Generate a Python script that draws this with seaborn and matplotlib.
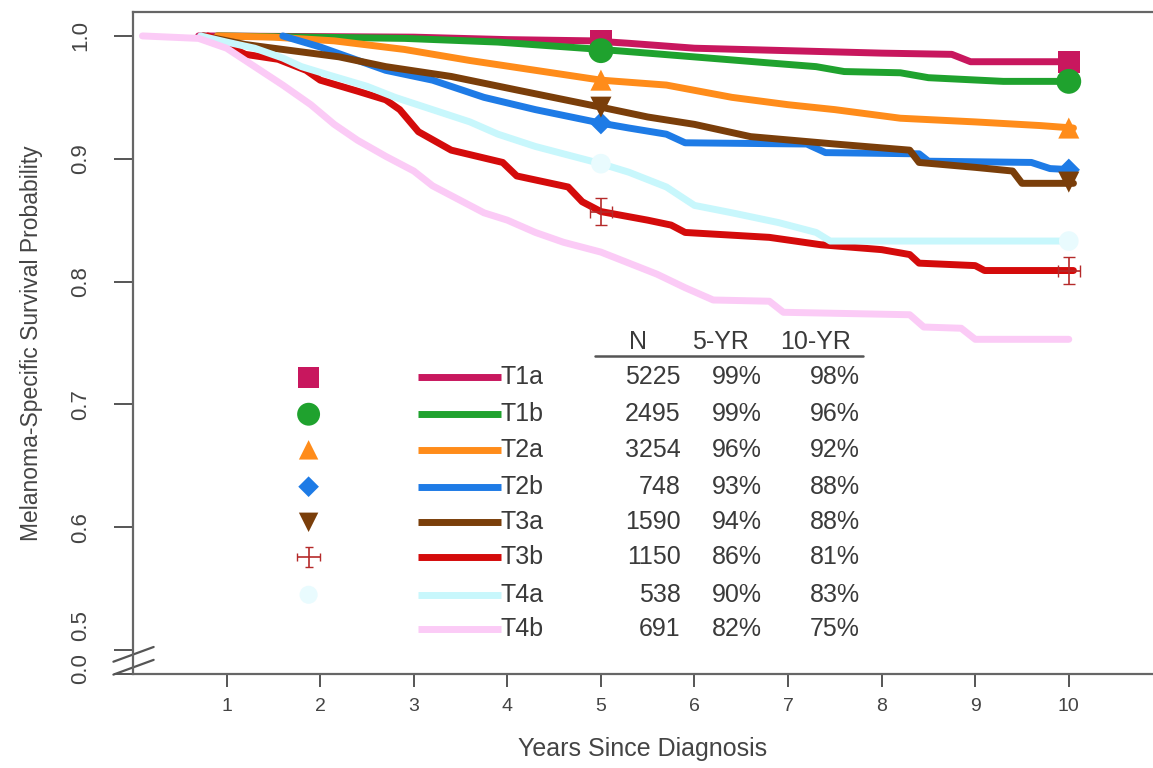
import numpy as np
import pandas as pd
import matplotlib
matplotlib.use("Agg")
import matplotlib.pyplot as plt
import matplotlib.transforms as mtransforms
import seaborn as sns

# groups and colours
groups = ["T1a", "T1b", "T2a", "T2b", "T3a", "T3b", "T4a", "T4b"]
colors = ["#C8175E", "#1FA22E", "#FF8C1A", "#1E7BE6", "#7A3E0A", "#D40B0B", "#C8F7FC", "#FBCBF6"]

# survival curves (years, survival)
t_t1a = [0.7, 3.0, 4.0, 4.9, 5.3, 6.0, 7.0, 8.0, 8.75, 8.95, 10.05]
s_t1a = [1.0, 0.999, 0.997, 0.996, 0.994, 0.990, 0.988, 0.986, 0.985, 0.979, 0.979]
t_t1b = [0.9, 2.9, 3.9, 5.0, 5.5, 6.15, 6.8, 7.3, 7.6, 8.2, 8.5, 9.3, 10.05]
s_t1b = [1.0, 0.998, 0.995, 0.989, 0.986, 0.982, 0.978, 0.975, 0.971, 0.970, 0.966, 0.963, 0.963]
t_t2a = [0.9, 1.5, 2.15, 2.9, 3.6, 4.3, 5.0, 5.7, 6.4, 7.0, 7.5, 8.2, 9.0, 9.7, 10.05]
s_t2a = [1.0, 0.999, 0.996, 0.989, 0.980, 0.972, 0.964, 0.960, 0.950, 0.944, 0.940, 0.933, 0.930, 0.927, 0.925]
t_t2b = [1.6, 2.0, 2.7, 3.2, 3.75, 4.3, 5.0, 5.3, 5.7, 5.9, 7.2, 7.4, 8.4, 8.5, 9.6, 9.8, 10.05]
s_t2b = [1.0, 0.991, 0.972, 0.964, 0.950, 0.940, 0.929, 0.925, 0.920, 0.913, 0.912, 0.905, 0.904, 0.898, 0.897, 0.892, 0.891]
t_t3a = [0.75, 1.2, 1.8, 2.2, 2.7, 3.4, 4.1, 5.0, 5.5, 6.0, 6.6, 7.5, 8.3, 8.4, 9.0, 9.4, 9.5, 10.05]
s_t3a = [1.0, 0.993, 0.987, 0.983, 0.975, 0.967, 0.956, 0.942, 0.934, 0.928, 0.918, 0.912, 0.907, 0.897, 0.893, 0.890, 0.880, 0.880]
t_t3b = [0.8, 1.2, 1.55, 1.85, 2.0, 2.4, 2.7, 2.85, 3.05, 3.4, 3.95, 4.1, 4.65, 4.8, 5.0, 5.5, 5.75, 5.9, 6.8, 7.35, 8.0, 8.3, 8.4, 9.0, 9.1, 10.05]
s_t3b = [1.0, 0.985, 0.981, 0.972, 0.964, 0.955, 0.948, 0.940, 0.922, 0.907, 0.897, 0.886, 0.877, 0.865, 0.857, 0.850, 0.846, 0.840, 0.836, 0.830, 0.826, 0.822, 0.815, 0.813, 0.809, 0.809]
t_t4a = [0.72, 1.0, 1.3, 1.6, 1.8, 2.1, 2.5, 2.8, 3.2, 3.6, 3.9, 4.3, 4.7, 5.0, 5.3, 5.7, 6.0, 6.4, 6.9, 7.3, 7.45, 10.05]
s_t4a = [1.0, 0.995, 0.990, 0.982, 0.975, 0.968, 0.959, 0.950, 0.940, 0.930, 0.920, 0.910, 0.902, 0.896, 0.889, 0.877, 0.862, 0.856, 0.848, 0.840, 0.833, 0.833]
t_t4b = [0.1, 0.7, 1.0, 1.3, 1.6, 1.9, 2.15, 2.4, 2.7, 3.0, 3.2, 3.5, 3.75, 4.0, 4.3, 4.6, 5.0, 5.3, 5.6, 5.9, 6.2, 6.8, 6.95, 8.3, 8.45, 8.85, 9.0, 10.0]
s_t4b = [1.0, 0.998, 0.990, 0.975, 0.960, 0.944, 0.928, 0.915, 0.902, 0.890, 0.878, 0.866, 0.856, 0.850, 0.840, 0.832, 0.824, 0.815, 0.806, 0.795, 0.785, 0.784, 0.775, 0.773, 0.763, 0.762, 0.753, 0.753]

# marker positions at 5 and 10 years
mark_t = [5.0, 10.0]
mark_s = {
    "T1a": [0.996, 0.979],
    "T1b": [0.988, 0.963],
    "T2a": [0.964, 0.925],
    "T2b": [0.929, 0.891],
    "T3a": [0.942, 0.881],
    "T3b": [0.857, 0.809],
    "T4a": [0.896, 0.833],
}

# table values
n_pts = [5225, 2495, 3254, 748, 1590, 1150, 538, 691]
yr5 = ["99%", "99%", "96%", "93%", "94%", "86%", "90%", "82%"]
yr10 = ["98%", "96%", "92%", "88%", "88%", "81%", "83%", "75%"]

times = [t_t1a, t_t1b, t_t2a, t_t2b, t_t3a, t_t3b, t_t4a, t_t4b]
survs = [s_t1a, s_t1b, s_t2a, s_t2b, s_t3a, s_t3b, s_t4a, s_t4b]
df = pd.concat([pd.DataFrame({"years": t, "surv": s, "group": g})
                for g, t, s in zip(groups, times, survs)], ignore_index=True)

sns.set_style("white")
plt.rcParams["font.family"] = ["Liberation Sans", "DejaVu Sans"]
pal = dict(zip(groups, colors))

fig = plt.figure(figsize=(11.53, 7.68), dpi=100)
ax = fig.add_axes([0.1154, 0.1224, 0.8846, 0.8620])

sns.lineplot(data=df, x="years", y="surv", hue="group", palette=pal, hue_order=groups,
             estimator=None, sort=False, linewidth=5.0, legend=False, ax=ax)

# end-point markers
mk = {"T1a": "s", "T1b": "o", "T2a": "^", "T2b": "D", "T3a": "v", "T4a": "o"}
msz = {"T1a": 250, "T1b": 320, "T2a": 230, "T2b": 130, "T3a": 230, "T4a": 200}
mcol = dict(pal)
mcol["T4a"] = "#E9FBFE"
mdf = pd.DataFrame([{"years": t, "surv": mark_s[g][i], "group": g}
                    for g in mk for i, t in enumerate(mark_t)])
for g in mk:
    sub = mdf[mdf.group == g]
    sns.scatterplot(data=sub, x="years", y="surv", color=mcol[g], marker=mk[g],
                    s=msz[g], edgecolor="none", legend=False, ax=ax, zorder=3)
ax.errorbar(mark_t, mark_s["T3b"], xerr=0.12, yerr=0.011, fmt="none",
            ecolor="#B52A2A", elinewidth=1.2, capsize=4, zorder=4)

# legend block with table
row_y = [0.722, 0.692, 0.663, 0.633, 0.604, 0.576, 0.545, 0.517]
txt = dict(color="#3a3a3a", fontsize=18, va="center")
for i, g in enumerate(groups):
    y = row_y[i]
    ax.plot([3.05, 3.93], [y, y], color=pal[g], lw=5.0, solid_capstyle="butt")
    if g in mk:
        ax.scatter([1.876], [y], color=mcol[g], marker=mk[g], s=msz[g] * 0.85,
                   edgecolor="none", zorder=3)
    elif g == "T3b":
        ax.errorbar([1.876], [y], xerr=0.12, yerr=0.008, fmt="none",
                    ecolor="#B52A2A", elinewidth=1.2, capsize=3)
    ax.text(3.93, y, g, ha="left", **txt)
    ax.text(5.85, y, str(n_pts[i]), ha="right", **txt)
    ax.text(6.72, y, yr5[i], ha="right", **txt)
    ax.text(7.77, y, yr10[i], ha="right", **txt)
ax.text(5.40, 0.751, "N", ha="center", **txt)
ax.text(6.28, 0.751, "5-YR", ha="center", **txt)
ax.text(7.29, 0.751, "10-YR", ha="center", **txt)
ax.plot([4.94, 7.80], [0.739, 0.739], color="#555555", lw=1.8)

# axes, broken y axis
ybot = 0.4805
ax.set_xlim(0, 10.9)
ax.set_ylim(ybot, 1.0195)
ax.set_xticks(range(1, 11))
ax.set_yticks([ybot, 0.5, 0.6, 0.7, 0.8, 0.9, 1.0])
ax.set_yticklabels(["0.0", "0.5", "0.6", "0.7", "0.8", "0.9", "1.0"], rotation=90, va="center")
ax.tick_params(axis="both", direction="out", width=1.4, color="#555555", labelcolor="#444444",
               bottom=True, left=True)
ax.tick_params(axis="x", labelsize=14, length=9, pad=8)
ax.tick_params(axis="y", labelsize=16, length=14, pad=16)
# pull the 0.0 and 0.5 labels apart at the break
labs = ax.get_yticklabels()
labs[0].set_transform(labs[0].get_transform() + mtransforms.ScaledTranslation(0, 0.05, fig.dpi_scale_trans))
labs[1].set_transform(labs[1].get_transform() + mtransforms.ScaledTranslation(0, 0.24, fig.dpi_scale_trans))
for side in ["left", "bottom", "top"]:
    ax.spines[side].set_color("#666666")
    ax.spines[side].set_linewidth(1.6)
ax.spines["right"].set_visible(False)

ax.set_xlabel("Years Since Diagnosis", fontsize=18, color="#444444", labelpad=16)
ax.set_ylabel("Melanoma-Specific Survival Probability", fontsize=16.5, color="#444444", labelpad=20)

# break marks on the y axis
for y0 in [0.4905, 0.4800]:
    ax.plot([-0.21, 0.22], [y0, y0 + 0.012], color="#555555", lw=1.6, clip_on=False)

fig.savefig("out.png", dpi=100)
